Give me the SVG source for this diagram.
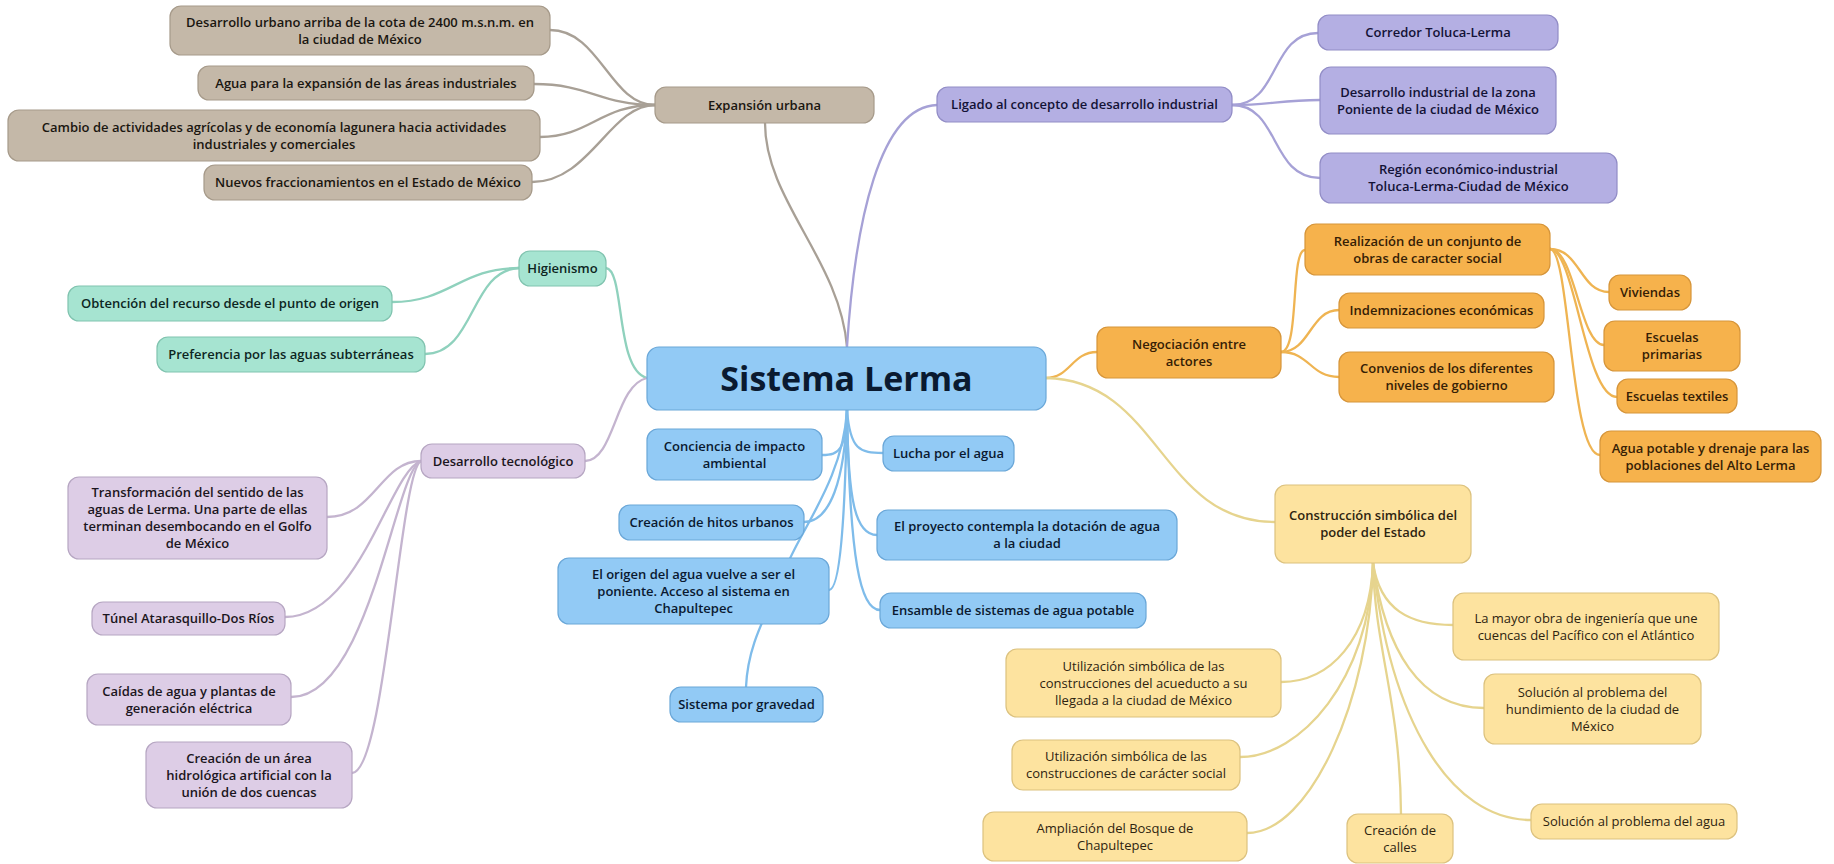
<svg xmlns="http://www.w3.org/2000/svg" width="1834" height="864" viewBox="0 0 1834 864">
  <style>
    text { font-family: "Open Sans", "Noto Sans", "Liberation Sans", sans-serif; font-size: 13px; font-weight: 600; text-anchor: middle; }
    rect { stroke-width: 1.2; }
    .tp rect { fill: #c4b8a8; stroke: #a69a8a; }
    .tp text { fill: #1a1610; }
    .pu rect { fill: #b4afe3; stroke: #928dc6; }
    .pu text { fill: #131236; }
    .gr rect { fill: #a6e4d1; stroke: #80c3af; }
    .gr text { fill: #0d261f; }
    .li rect { fill: #ddcde6; stroke: #b6a6c2; }
    .li text { fill: #1b1520; }
    .bl rect { fill: #92caf5; stroke: #6aa7d8; }
    .bl text { fill: #0a1930; }
    .or rect { fill: #f6b24c; stroke: #d6953a; }
    .or text { fill: #352005; }
    .ye rect { fill: #fde39f; stroke: #dcc27f; }
    .ye text { fill: #2e2410; font-weight: 400; }
    .ye.main text { font-weight: 600; }
    #sistema-lerma text { font-size: 34px; font-weight: 700; fill: #0a1a30; }
    .links path { fill: none; stroke-width: 2.3; stroke-linecap: round; }
    .l-tp { stroke: #a8a096; }
    .l-pu { stroke: #a6a1d6; }
    .l-gr { stroke: #8fd1bd; }
    .l-li { stroke: #c4b4cf; }
    .l-bl { stroke: #7fbcea; }
    .l-or { stroke: #efb452; }
    .l-ye { stroke: #e6d48e; }
  </style>

  <rect x="0" y="0" width="1834" height="864" fill="#ffffff"/>

  <!-- branch connectors, drawn under the nodes -->
  <g class="links">
    <!-- from the central topic -->
    <path class="l-tp" d="M765,123 C765,200 840,260 847,347"/>
    <path class="l-pu" d="M847,347 C855,220 880,107 937,105"/>
    <path class="l-gr" d="M606,268 C625,270 615,370 647,378"/>
    <path class="l-li" d="M585,461 C615,460 615,385 647,378"/>
    <path class="l-or" d="M1046,378 C1070,378 1072,352 1097,352"/>
    <path class="l-ye" d="M1046,378 C1160,380 1160,522 1275,522"/>
    <path class="l-bl" d="M847,410 C845,450 840,455 822,455"/>
    <path class="l-bl" d="M847,410 C850,450 860,453 883,453"/>
    <path class="l-bl" d="M847,410 C845,480 830,522 804,522"/>
    <path class="l-bl" d="M847,410 C848,500 855,535 877,535"/>
    <path class="l-bl" d="M847,410 C845,520 840,590 829,590"/>
    <path class="l-bl" d="M847,410 C850,560 860,610 880,610"/>
    <path class="l-bl" d="M847,410 C843,480 800,530 785,570 C770,610 748,640 746,687"/>

    <!-- Expansión urbana -->
    <path class="l-tp" d="M655,105 C610,105 600,30 550,30"/>
    <path class="l-tp" d="M655,105 C600,105 590,84 534,84"/>
    <path class="l-tp" d="M655,105 C600,105 590,137 540,137"/>
    <path class="l-tp" d="M655,105 C610,105 590,182 532,182"/>

    <!-- Ligado al concepto de desarrollo industrial -->
    <path class="l-pu" d="M1232,105 C1280,105 1270,33 1318,33"/>
    <path class="l-pu" d="M1232,105 C1270,105 1280,100 1320,100"/>
    <path class="l-pu" d="M1232,105 C1280,105 1270,178 1320,178"/>

    <!-- Higienismo -->
    <path class="l-gr" d="M519,268 C460,268 450,302 392,302"/>
    <path class="l-gr" d="M519,268 C470,270 475,354 425,354"/>

    <!-- Desarrollo tecnológico -->
    <path class="l-li" d="M421,461 C380,461 375,517 327,517"/>
    <path class="l-li" d="M421,461 C390,470 360,617 285,617"/>
    <path class="l-li" d="M421,461 C395,470 370,697 291,697"/>
    <path class="l-li" d="M421,461 C400,470 385,773 352,773"/>

    <!-- Negociación entre actores -->
    <path class="l-or" d="M1281,352 C1300,352 1290,250 1305,250"/>
    <path class="l-or" d="M1281,352 C1310,352 1310,310 1339,310"/>
    <path class="l-or" d="M1281,352 C1310,352 1310,377 1339,377"/>

    <!-- Realización de un conjunto de obras -->
    <path class="l-or" d="M1550,249 C1580,249 1580,292 1609,292"/>
    <path class="l-or" d="M1550,249 C1575,249 1580,345 1604,345"/>
    <path class="l-or" d="M1550,249 C1575,249 1585,397 1617,397"/>
    <path class="l-or" d="M1550,249 C1570,249 1570,455 1600,455"/>

    <!-- Construcción simbólica del poder del Estado -->
    <path class="l-ye" d="M1373,563 C1380,610 1410,625 1453,625"/>
    <path class="l-ye" d="M1373,563 C1385,650 1420,708 1484,708"/>
    <path class="l-ye" d="M1373,563 C1390,720 1450,820 1531,820"/>
    <path class="l-ye" d="M1373,563 C1375,650 1400,700 1401,814"/>
    <path class="l-ye" d="M1373,563 C1370,700 1310,833 1247,833"/>
    <path class="l-ye" d="M1373,563 C1370,680 1300,757 1240,757"/>
    <path class="l-ye" d="M1373,563 C1370,640 1330,682 1281,682"/>
  </g>

  <!-- Expansión urbana -->
  <g id="expansion-urbana" class="tp"><rect x="655" y="87" width="219" height="36" rx="11"/><text><tspan x="764.5" y="109.5">Expansión urbana</tspan></text></g>
  <g id="desarrollo-urbano" class="tp"><rect x="170" y="6" width="380" height="49" rx="11"/><text><tspan x="360" y="26.5">Desarrollo urbano arriba de la cota de 2400 m.s.n.m. en</tspan><tspan x="360" y="43.5">la ciudad de México</tspan></text></g>
  <g id="agua-expansion" class="tp"><rect x="198" y="66" width="336" height="34" rx="11"/><text><tspan x="366" y="87.5">Agua para la expansión de las áreas industriales</tspan></text></g>
  <g id="cambio-actividades" class="tp"><rect x="8" y="110" width="532" height="51" rx="11"/><text><tspan x="274" y="131.5">Cambio de actividades agrícolas y de economía lagunera hacia actividades</tspan><tspan x="274" y="148.5">industriales y comerciales</tspan></text></g>
  <g id="nuevos-fraccionamientos" class="tp"><rect x="204" y="165" width="328" height="35" rx="11"/><text><tspan x="368" y="187">Nuevos fraccionamientos en el Estado de México</tspan></text></g>

  <!-- Ligado al concepto de desarrollo industrial -->
  <g id="ligado" class="pu"><rect x="937" y="87" width="295" height="35" rx="11"/><text><tspan x="1084.5" y="109">Ligado al concepto de desarrollo industrial</tspan></text></g>
  <g id="corredor" class="pu"><rect x="1318" y="15" width="240" height="35" rx="11"/><text><tspan x="1438" y="37">Corredor Toluca-Lerma</tspan></text></g>
  <g id="desarrollo-industrial" class="pu"><rect x="1320" y="67" width="236" height="67" rx="11"/><text><tspan x="1438" y="96.5">Desarrollo industrial de la zona</tspan><tspan x="1438" y="113.5">Poniente de la ciudad de México</tspan></text></g>
  <g id="region" class="pu"><rect x="1320" y="153" width="297" height="50" rx="11"/><text><tspan x="1468.5" y="174">Región económico-industrial</tspan><tspan x="1468.5" y="191">Toluca-Lerma-Ciudad de México</tspan></text></g>

  <!-- Higienismo -->
  <g id="higienismo" class="gr"><rect x="519" y="251" width="87" height="35" rx="11"/><text><tspan x="562.5" y="273">Higienismo</tspan></text></g>
  <g id="obtencion" class="gr"><rect x="68" y="286" width="324" height="35" rx="11"/><text><tspan x="230" y="308">Obtención del recurso desde el punto de origen</tspan></text></g>
  <g id="preferencia" class="gr"><rect x="157" y="337" width="268" height="35" rx="11"/><text><tspan x="291" y="359">Preferencia por las aguas subterráneas</tspan></text></g>

  <!-- Desarrollo tecnológico -->
  <g id="desarrollo-tecnologico" class="li"><rect x="421" y="444" width="164" height="34" rx="11"/><text><tspan x="503" y="465.5">Desarrollo tecnológico</tspan></text></g>
  <g id="transformacion" class="li"><rect x="68" y="477" width="259" height="82" rx="11"/><text><tspan x="197.5" y="497">Transformación del sentido de las</tspan><tspan x="197.5" y="514">aguas de Lerma. Una parte de ellas</tspan><tspan x="197.5" y="531">terminan desembocando en el Golfo</tspan><tspan x="197.5" y="548">de México</tspan></text></g>
  <g id="tunel" class="li"><rect x="92" y="602" width="193" height="33" rx="11"/><text><tspan x="188.5" y="623">Túnel Atarasquillo-Dos Ríos</tspan></text></g>
  <g id="caidas" class="li"><rect x="87" y="674" width="204" height="51" rx="11"/><text><tspan x="189" y="695.5">Caídas de agua y plantas de</tspan><tspan x="189" y="712.5">generación eléctrica</tspan></text></g>
  <g id="area-hidrologica" class="li"><rect x="146" y="742" width="206" height="66" rx="11"/><text><tspan x="249" y="762.5">Creación de un área</tspan><tspan x="249" y="779.5">hidrológica artificial con la</tspan><tspan x="249" y="796.5">unión de dos cuencas</tspan></text></g>

  <!-- central topic and its direct details -->
  <g id="sistema-lerma" class="bl"><rect x="647" y="347" width="399" height="63" rx="12"/><text><tspan x="846.5" y="391">Sistema Lerma</tspan></text></g>
  <g id="conciencia" class="bl"><rect x="647" y="429" width="175" height="51" rx="11"/><text><tspan x="734.5" y="450.5">Conciencia de impacto</tspan><tspan x="734.5" y="467.5">ambiental</tspan></text></g>
  <g id="lucha" class="bl"><rect x="883" y="436" width="131" height="35" rx="11"/><text><tspan x="948.5" y="458">Lucha por el agua</tspan></text></g>
  <g id="hitos" class="bl"><rect x="619" y="505" width="185" height="35" rx="11"/><text><tspan x="711.5" y="527">Creación de hitos urbanos</tspan></text></g>
  <g id="dotacion" class="bl"><rect x="877" y="510" width="300" height="50" rx="11"/><text><tspan x="1027" y="531">El proyecto contempla la dotación de agua</tspan><tspan x="1027" y="548">a la ciudad</tspan></text></g>
  <g id="origen" class="bl"><rect x="558" y="558" width="271" height="66" rx="11"/><text><tspan x="693.5" y="578.5">El origen del agua vuelve a ser el</tspan><tspan x="693.5" y="595.5">poniente. Acceso al sistema en</tspan><tspan x="693.5" y="612.5">Chapultepec</tspan></text></g>
  <g id="ensamble" class="bl"><rect x="880" y="593" width="266" height="35" rx="11"/><text><tspan x="1013" y="615">Ensamble de sistemas de agua potable</tspan></text></g>
  <g id="gravedad" class="bl"><rect x="670" y="687" width="153" height="35" rx="11"/><text><tspan x="746.5" y="709">Sistema por gravedad</tspan></text></g>

  <!-- Negociación entre actores -->
  <g id="negociacion" class="or"><rect x="1097" y="327" width="184" height="51" rx="11"/><text><tspan x="1189" y="348.5">Negociación entre</tspan><tspan x="1189" y="365.5">actores</tspan></text></g>
  <g id="realizacion" class="or"><rect x="1305" y="224" width="245" height="51" rx="11"/><text><tspan x="1427.5" y="245.5">Realización de un conjunto de</tspan><tspan x="1427.5" y="262.5">obras de caracter social</tspan></text></g>
  <g id="indemnizaciones" class="or"><rect x="1339" y="293" width="205" height="35" rx="11"/><text><tspan x="1441.5" y="315">Indemnizaciones económicas</tspan></text></g>
  <g id="convenios" class="or"><rect x="1339" y="352" width="215" height="50" rx="11"/><text><tspan x="1446.5" y="373">Convenios de los diferentes</tspan><tspan x="1446.5" y="390">niveles de gobierno</tspan></text></g>
  <g id="viviendas" class="or"><rect x="1609" y="275" width="82" height="35" rx="11"/><text><tspan x="1650" y="297">Viviendas</tspan></text></g>
  <g id="escuelas-primarias" class="or"><rect x="1604" y="321" width="136" height="50" rx="11"/><text><tspan x="1672" y="342">Escuelas</tspan><tspan x="1672" y="359">primarias</tspan></text></g>
  <g id="escuelas-textiles" class="or"><rect x="1617" y="379" width="120" height="34" rx="11"/><text><tspan x="1677" y="400.5">Escuelas textiles</tspan></text></g>
  <g id="agua-drenaje" class="or"><rect x="1600" y="431" width="221" height="51" rx="11"/><text><tspan x="1710.5" y="452.5">Agua potable y drenaje para las</tspan><tspan x="1710.5" y="469.5">poblaciones del Alto Lerma</tspan></text></g>

  <!-- Construcción simbólica del poder del Estado -->
  <g id="construccion" class="ye main"><rect x="1275" y="485" width="196" height="78" rx="11"/><text><tspan x="1373" y="520">Construcción simbólica del</tspan><tspan x="1373" y="537">poder del Estado</tspan></text></g>
  <g id="mayor-obra" class="ye"><rect x="1453" y="593" width="266" height="67" rx="11"/><text><tspan x="1586" y="622.5">La mayor obra de ingeniería que une</tspan><tspan x="1586" y="639.5">cuencas del Pacífico con el Atlántico</tspan></text></g>
  <g id="hundimiento" class="ye"><rect x="1484" y="674" width="217" height="70" rx="11"/><text><tspan x="1592.5" y="696.5">Solución al problema del</tspan><tspan x="1592.5" y="713.5">hundimiento de la ciudad de</tspan><tspan x="1592.5" y="730.5">México</tspan></text></g>
  <g id="problema-agua" class="ye"><rect x="1531" y="804" width="206" height="35" rx="11"/><text><tspan x="1634" y="826">Solución al problema del agua</tspan></text></g>
  <g id="calles" class="ye"><rect x="1347" y="814" width="106" height="49" rx="11"/><text><tspan x="1400" y="834.5">Creación de</tspan><tspan x="1400" y="851.5">calles</tspan></text></g>
  <g id="bosque" class="ye"><rect x="983" y="812" width="264" height="49" rx="11"/><text><tspan x="1115" y="832.5">Ampliación del Bosque de</tspan><tspan x="1115" y="849.5">Chapultepec</tspan></text></g>
  <g id="caracter-social" class="ye"><rect x="1012" y="740" width="228" height="50" rx="11"/><text><tspan x="1126" y="761">Utilización simbólica de las</tspan><tspan x="1126" y="778">construcciones de carácter social</tspan></text></g>
  <g id="acueducto" class="ye"><rect x="1006" y="649" width="275" height="68" rx="11"/><text><tspan x="1143.5" y="670.5">Utilización simbólica de las</tspan><tspan x="1143.5" y="687.5">construcciones del acueducto a su</tspan><tspan x="1143.5" y="704.5">llegada a la ciudad de México</tspan></text></g>
</svg>
